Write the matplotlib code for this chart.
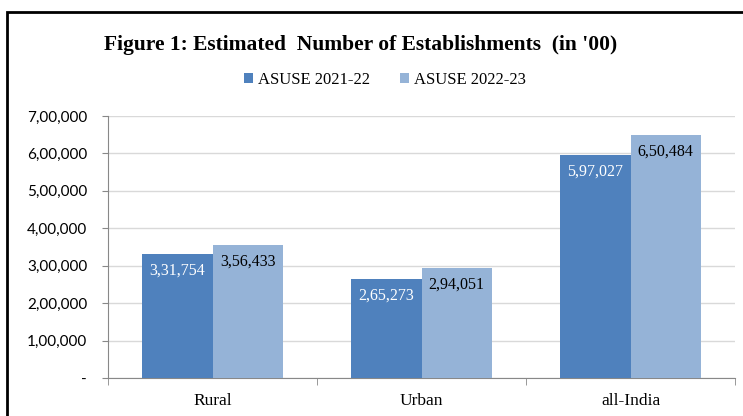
import numpy as np
import matplotlib.pyplot as plt
from matplotlib.patches import Rectangle
from matplotlib.ticker import FixedLocator

# data
categories = ['Rural', 'Urban', 'all-India']
series_names = ['ASUSE 2021-22', 'ASUSE 2022-23']
vals_2122 = [331754, 265273, 597027]
vals_2223 = [356433, 294051, 650484]
y_ticks = [0, 100000, 200000, 300000, 400000, 500000, 600000, 700000]
y_tick_labels = ['-', '1,00,000', '2,00,000', '3,00,000', '4,00,000', '5,00,000', '6,00,000', '7,00,000']


def indian_fmt(v):
    s = str(int(v))
    if len(s) <= 3:
        return s
    last3 = s[-3:]
    rest = s[:-3]
    parts = []
    while len(rest) > 2:
        parts.insert(0, rest[-2:])
        rest = rest[:-2]
    if rest:
        parts.insert(0, rest)
    return ','.join(parts) + ',' + last3


serif = ['Liberation Serif', 'DejaVu Serif']
dark = '#4F81BD'
light = '#95B3D7'

fig = plt.figure(figsize=(7.43, 4.16), dpi=100)
ax = fig.add_axes([108 / 743, 1 - 378 / 416, (735 - 108) / 743, (378 - 116) / 416])

x = np.arange(len(categories))
w = 0.335
b1 = ax.bar(x - w / 2, vals_2122, w, color=dark, label=series_names[0], zorder=3)
b2 = ax.bar(x + w / 2, vals_2223, w, color=light, label=series_names[1], zorder=3)

for rect, v in zip(b1, vals_2122):
    ax.text(rect.get_x() + rect.get_width() / 2, v - 24000, indian_fmt(v), ha='center', va='top',
            color='white', fontsize=11.5, family=serif, zorder=4)
for rect, v in zip(b2, vals_2223):
    ax.text(rect.get_x() + rect.get_width() / 2, v - 24000, indian_fmt(v), ha='center', va='top',
            color='black', fontsize=11.5, family=serif, zorder=4)

ax.set_xlim(-0.5, 2.5)
ax.set_ylim(0, 700000)
ax.yaxis.set_major_locator(FixedLocator(y_ticks))
ax.set_yticklabels(y_tick_labels, family=['Lato', 'DejaVu Sans'], fontsize=11)
ax.set_xticks(x)
ax.set_xticklabels(categories, family=serif, fontsize=12.5)
ax.tick_params(axis='x', length=0, pad=11)
ax.tick_params(axis='y', length=4, color='#888888', pad=11)
ax.xaxis.set_minor_locator(FixedLocator([-0.5, 0.5, 1.5, 2.5]))
ax.tick_params(axis='x', which='minor', length=5, color='#888888')

ax.grid(axis='y', color='#D9D9D9', linewidth=1, zorder=0)
for sp in ['top', 'right']:
    ax.spines[sp].set_visible(False)
ax.spines['left'].set_color('#888888')
ax.spines['bottom'].set_color('#888888')

fig.text(0.485, 1 - 45 / 416, "Figure 1: Estimated  Number of Establishments  (in '00)", ha='center', va='center',
         fontsize=15.5, fontweight='bold', family=serif)
fig.legend(loc='center', bbox_to_anchor=(0.518, 1 - 80 / 416), ncol=2, frameon=False,
           prop={'family': serif, 'size': 12}, handlelength=0.55, handleheight=0.55,
           handletextpad=0.3, columnspacing=1.8)

# outer chart border
fig.patches.append(Rectangle((7 / 743, -0.1), 1.1, 1 - 12 / 416 + 0.1, transform=fig.transFigure,
                             fill=False, edgecolor='black', linewidth=2))

fig.savefig('out.png', dpi=100)
